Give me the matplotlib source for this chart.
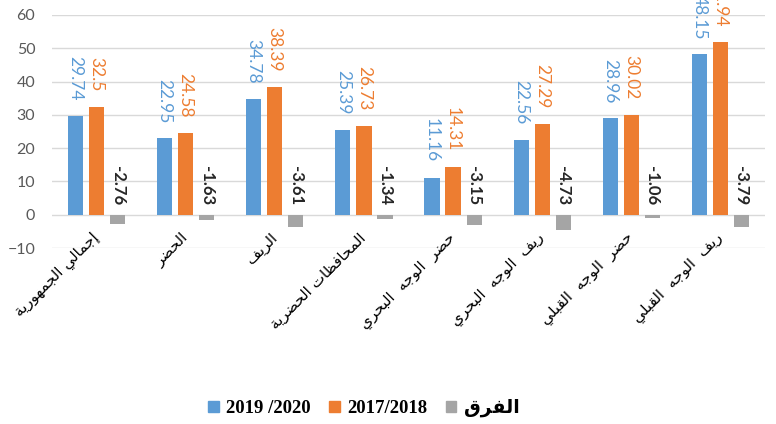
import numpy as np
import matplotlib
matplotlib.use("Agg")
import matplotlib.pyplot as plt
from matplotlib.patches import Patch

# chart values
categories = [
    "إجمالي الجمهورية",
    "الحضر",
    "الريف",
    "المحافظات الحضرية",
    "حضر  الوجه  البحري",
    "ريف  الوجه  البحري",
    "حضر  الوجه  القبلي",
    "ريف  الوجه  القبلي",
]
values_2020 = [29.74, 22.95, 34.78, 25.39, 11.16, 22.56, 28.96, 48.15]
values_2018 = [32.5, 24.58, 38.39, 26.73, 14.31, 27.29, 30.02, 51.94]
values_diff = [-2.76, -1.63, -3.61, -1.34, -3.15, -4.73, -1.06, -3.79]
series_names = ["2019 /2020", "2017/2018", "الفرق"]
y_ticks = [-10, 0, 10, 20, 30, 40, 50, 60]

BLUE = "#5B9BD5"
ORANGE = "#ED7D31"
GRAY = "#A5A5A5"

# matplotlib does no arabic shaping, so pick the presentation forms by hand
# and lay the letters out in visual (right to left) order
ISO_FORM = {
    "ا": 0xFE8D, "إ": 0xFE87, "ل": 0xFEDD, "ج": 0xFE9D, "م": 0xFEE1,
    "ه": 0xFEE9, "و": 0xFEED, "ر": 0xFEAD, "ي": 0xFEF1, "ة": 0xFE93,
    "ح": 0xFEA1, "ض": 0xFEBD, "ف": 0xFED1, "ظ": 0xFEC5, "ت": 0xFE95,
    "ب": 0xFE8F, "ق": 0xFED5,
}
RIGHT_ONLY = set("اإورة")


def shape(text):
    out = []
    for i, c in enumerate(text):
        if c not in ISO_FORM:
            out.append(c)
            continue
        prev = text[i - 1] if i > 0 else ""
        nxt = text[i + 1] if i + 1 < len(text) else ""
        join_prev = prev in ISO_FORM and prev not in RIGHT_ONLY
        join_next = c not in RIGHT_ONLY and nxt in ISO_FORM
        base = ISO_FORM[c]
        if join_prev and join_next:
            code = base + 3
        elif join_prev:
            code = base + 1
        elif join_next:
            code = base + 2
        else:
            code = base
        out.append(chr(code))
    return "".join(out[::-1])


plt.rcParams["font.family"] = ["Lato", "DejaVu Sans"]

fig = plt.figure(figsize=(7.76, 4.24), dpi=100)
ax = fig.add_axes([52 / 776, 1 - 248 / 424, 713 / 776, 233 / 424])

x = np.arange(len(categories))
w = 0.17
step = 0.236
ax.bar(x - step, values_2020, w, color=BLUE, zorder=3)
ax.bar(x, values_2018, w, color=ORANGE, zorder=3)
ax.bar(x + step, values_diff, w, color=GRAY, zorder=3)

# value labels, rotated like the excel original
for xi, v in zip(x - step, values_2020):
    ax.annotate(f"{v:g}", (xi, v), xytext=(0, 11), textcoords="offset points",
                rotation=270, ha="center", va="bottom", color=BLUE,
                fontsize=12.5, annotation_clip=False)
for xi, v in zip(x, values_2018):
    ax.annotate(f"{v:g}", (xi, v), xytext=(0, 11), textcoords="offset points",
                rotation=270, ha="center", va="bottom", color=ORANGE,
                fontsize=12.5, annotation_clip=False)
for xi, v in zip(x + step, values_diff):
    ax.annotate(f"{v:g}", (xi, 0), xytext=(0, 7), textcoords="offset points",
                rotation=270, ha="center", va="bottom", color="#262626",
                fontsize=12, fontweight="bold")

ax.set_xlim(-0.5, len(categories) - 0.5)
ax.set_ylim(-10, 60)
ax.set_yticks(y_ticks)
ax.yaxis.grid(True, color="#D9D9D9", linewidth=1.0, zorder=0)
for s in ax.spines.values():
    s.set_visible(False)
ax.spines["bottom"].set_position(("data", 0))
ax.tick_params(axis="y", length=0, pad=12, labelsize=11.5, labelcolor="#595959")
ax.tick_params(axis="x", length=0, pad=15)
ax.set_xticks(x)
ax.set_xticklabels([shape(c) for c in categories], rotation=45, ha="right",
                   va="center", rotation_mode="anchor", fontsize=11,
                   family=["DejaVu Sans"], color="#000000")

handles = [Patch(color=BLUE), Patch(color=ORANGE), Patch(color=GRAY)]
fig.legend(handles, [series_names[0], series_names[1], shape(series_names[2])],
           loc="center", bbox_to_anchor=(364 / 776, 1 - 408 / 424), ncol=3,
           frameon=False, handlelength=0.55, handleheight=0.55, handletextpad=0.4,
           columnspacing=1.0,
           prop={"family": ["Liberation Serif", "DejaVu Sans"], "weight": "bold",
                 "size": 13.5})

fig.savefig("out.png", dpi=100)
